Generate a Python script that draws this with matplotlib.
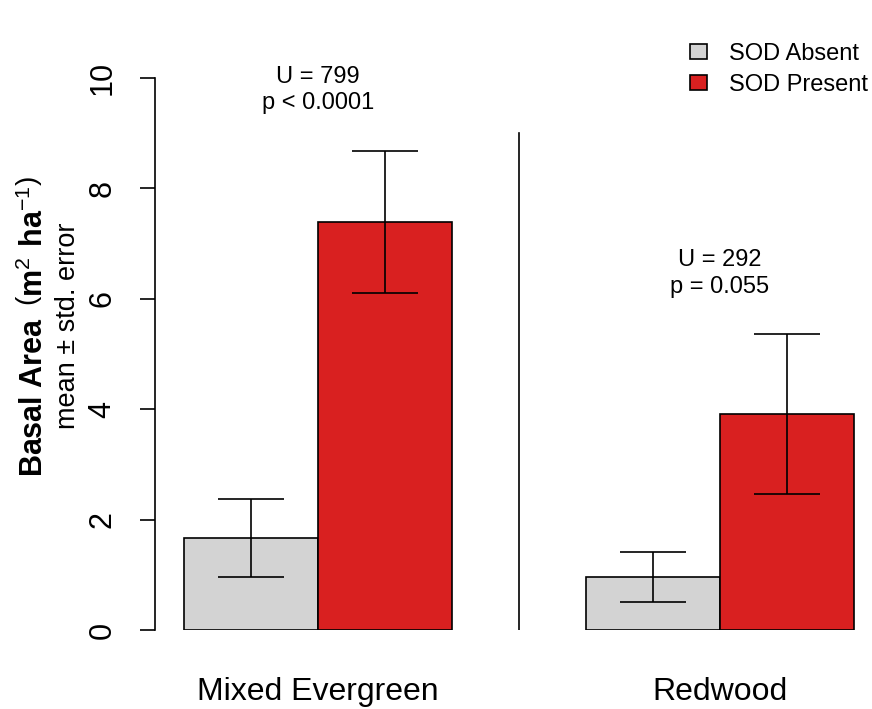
import matplotlib.pyplot as plt
import numpy as np

plt.rcParams['font.family'] = ['Liberation Sans', 'DejaVu Sans']
plt.rcParams['mathtext.fontset'] = 'custom'
plt.rcParams['mathtext.rm'] = 'Liberation Sans'
plt.rcParams['mathtext.bf'] = 'Liberation Sans:bold'

# basal area, mean and std. error by forest type
forest = ['Mixed Evergreen', 'Redwood']
absent_mean = [1.67, 0.96]
absent_se = [0.71, 0.45]
present_mean = [7.39, 3.91]
present_se = [1.29, 1.45]
stats = ['U = 799\np < 0.0001', 'U = 292\np = 0.055']
groups = ['SOD Absent', 'SOD Present']

grey = '#D3D3D3'
red = '#D92020'
lw = 1.2

fig = plt.figure(figsize=(8.72, 7.09), dpi=100)
ax = fig.add_axes([155/872, 79/709, 717/872, 552/709])

centers = np.array([1.0, 4.0])
w = 1.0
ax.bar(centers - w/2, absent_mean, width=w, color=grey, edgecolor='black', linewidth=lw, label=groups[0])
ax.bar(centers + w/2, present_mean, width=w, color=red, edgecolor='black', linewidth=lw, label=groups[1])
ax.errorbar(centers - w/2, absent_mean, yerr=absent_se, fmt='none', ecolor='black', elinewidth=lw, capsize=24, capthick=lw)
ax.errorbar(centers + w/2, present_mean, yerr=present_se, fmt='none', ecolor='black', elinewidth=lw, capsize=24, capthick=lw)

# separator between the two forest types
ax.plot([2.5, 2.5], [0, 9], color='black', linewidth=lw)

# Mann-Whitney results above each pair
tops = [m + s for m, s in zip(present_mean, present_se)]
ax.text(centers[0], 9.78, stats[0], ha='center', va='center', fontsize=17, linespacing=1.25, clip_on=False)
ax.text(centers[1], tops[1] + 1.1, stats[1], ha='center', va='center', fontsize=17, linespacing=1.25)

ax.set_xlim(-0.216, 5.134)
ax.set_ylim(0, 10)
for s in ['top', 'right', 'bottom']:
    ax.spines[s].set_visible(False)
ax.spines['left'].set_bounds(0, 10)
ax.spines['left'].set_linewidth(lw)
ax.set_yticks([0, 2, 4, 6, 8, 10])
ax.tick_params(axis='y', length=11, width=lw, labelsize=22, pad=16)
for lab in ax.get_yticklabels():
    lab.set_rotation(90)
    lab.set_va('center')
ax.set_xticks(centers)
ax.set_xticklabels(forest, fontsize=23)
ax.tick_params(axis='x', length=0, pad=34)

fig.text(0.039, 0.539, r'Basal Area $\,\left(\mathbf{m}^{2}\ \mathbf{ha}^{-1}\right)$', rotation=90,
         ha='center', va='center', fontsize=22, fontweight='bold')
fig.text(0.078, 0.540, 'mean ± std. error', rotation=90, ha='center', va='center', fontsize=19.5)

fig.legend(loc='upper right', bbox_to_anchor=(1.0, 0.944), frameon=False, fontsize=17,
           borderaxespad=0, borderpad=0.15,
           handlelength=0.72, handleheight=0.6, handletextpad=0.97, labelspacing=0.35)

fig.savefig('out.png', dpi=100)
